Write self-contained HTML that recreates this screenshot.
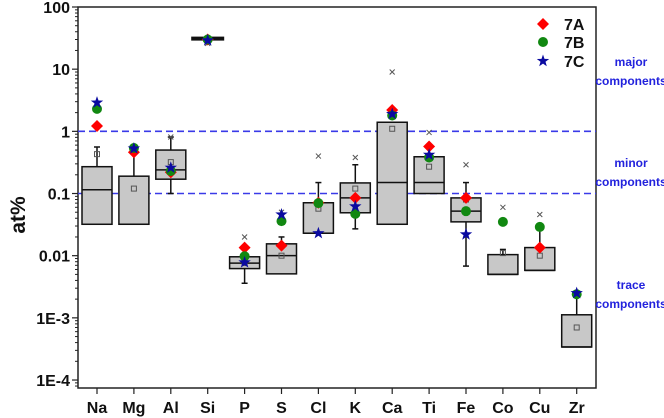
<!DOCTYPE html>
<html><head><meta charset="utf-8"><style>
body{margin:0;background:#fff;}
svg{display:block;font-family:"Liberation Sans",Arial,sans-serif;}
</style></head><body>
<svg id="chart" width="664" height="418" viewBox="0 0 664 418"></svg>
<script>
const categories=["Na","Mg","Al","Si","P","S","Cl","K","Ca","Ti","Fe","Co","Cu","Zr"];
const boxTop=[0.27,0.19,0.5,31.6,0.0096,0.0155,0.071,0.148,1.4,0.39,0.085,0.0104,0.0135,0.00112];
const boxBottom=[0.032,0.032,0.17,31.6,0.0062,0.0051,0.023,0.049,0.032,0.10,0.035,0.005,0.0058,0.00034];
const medians=[0.115,0.032,0.24,31.6,0.0076,0.01,0.023,0.085,0.15,0.15,0.052,0.005,0.0058,0.00034];
const whiskerTop=[0.56,0.53,0.81,31.6,0.0096,0.020,0.15,0.29,1.4,0.39,0.15,0.0126,0.029,0.0025];
const whiskerBottom=[0.032,0.032,0.10,31.6,0.0036,0.0051,0.023,0.027,0.032,0.10,0.0068,0.005,0.0058,0.00034];
const means=[0.43,0.12,0.32,30,0.0076,0.01,0.057,0.12,1.1,0.27,0.08,0.011,0.01,0.0007];
const outliers=[null,null,0.81,26,0.020,0.05,0.40,0.38,9.0,0.96,0.29,0.06,0.046,null];
const s7A=[1.22,0.46,0.22,30,0.0135,0.0145,0.071,0.085,2.2,0.57,0.085,null,0.0135,null];
const s7B=[2.3,0.54,0.23,30,0.0098,0.036,0.07,0.047,1.8,0.38,0.052,0.035,0.029,0.0024];
const s7C=[2.9,0.53,0.26,29,0.0078,0.046,0.023,0.062,1.9,0.42,0.022,null,null,0.0025];
const yTicks=[100,10,1,0.1,0.01,0.001,0.0001];
const yTickLabels=["100","10","1","0.1","0.01","1E-3","1E-4"];
const thresholds=[1,0.1];

const NS="http://www.w3.org/2000/svg";
const svg=document.getElementById('chart');
const L=78,R=596,T=7,B=388;
const y=v=>7+(2-Math.log10(v))*62.17;
const x=i=>97+i*36.9;
function el(t,a,p){const e=document.createElementNS(NS,t);for(const k in a)e.setAttribute(k,a[k]);(p||svg).appendChild(e);return e;}

const frame=el('rect',{x:L,y:T,width:R-L,height:B-T,fill:'none',stroke:'#222','stroke-width':1.5});



yTicks.forEach((v,i)=>{
  const yy=y(v);
  el('line',{x1:L-6,x2:L,y1:yy,y2:yy,stroke:'#222','stroke-width':1.2});
  const t=el('text',{x:L-8,y:yy+6,'text-anchor':'end','font-size':16,'font-weight':'bold',fill:'#111'});
  t.textContent=yTickLabels[i];
  
  
  if(i<yTicks.length-1){for(let m=2;m<10;m++){const ym=y(v/10*m);el('line',{x1:L-3,x2:L,y1:ym,y2:ym,stroke:'#222','stroke-width':1});}}
});
for(let m=2;m<10;m++){const ym=y(0.0001/10*m);if(ym<B)el('line',{x1:L-3,x2:L,y1:ym,y2:ym,stroke:'#222','stroke-width':1});}

const yt=el('text',{x:0,y:0,transform:'translate(25,215) rotate(-90)','text-anchor':'middle','font-size':21,'font-weight':'bold',fill:'#111'});
yt.textContent='at%';



thresholds.forEach(v=>{
  const l=el('line',{x1:L,x2:R,y1:y(v),y2:y(v),stroke:'#3a3ae8','stroke-width':1.6,'stroke-dasharray':'7,4'});
  
  
});

function marker(kind,cx,cy){
  let e;
  if(kind==='A') e=el('polygon',{points:`${cx},${cy-6} ${cx+6},${cy} ${cx},${cy+6} ${cx-6},${cy}`,fill:'#ff0000'});
  else if(kind==='B') e=el('circle',{cx:cx,cy:cy,r:5,fill:'#118811'});
  else {let p=[];for(let k=0;k<10;k++){const r=k%2?2.6:6.5,a=-Math.PI/2+k*Math.PI/5;p.push((cx+r*Math.cos(a)).toFixed(1)+','+(cy+r*Math.sin(a)).toFixed(1));}e=el('polygon',{points:p.join(' '),fill:'#0a0aa0'});}
  return e;
}

categories.forEach((c,i)=>{
  const cx=x(i),hw=15;
  el('line',{x1:cx,x2:cx,y1:B,y2:B+6,stroke:'#222','stroke-width':1.2});
  const lab=el('text',{x:cx,y:B+25,'text-anchor':'middle','font-size':16,'font-weight':'bold',fill:'#111'});
  lab.textContent=c;
  
  
  el('line',{x1:cx,x2:cx,y1:y(whiskerTop[i]),y2:y(boxTop[i]),stroke:'#111','stroke-width':1.5});
  el('line',{x1:cx,x2:cx,y1:y(boxBottom[i]),y2:y(whiskerBottom[i]),stroke:'#111','stroke-width':1.5});
  if(whiskerTop[i]>boxTop[i]) el('line',{x1:cx-3,x2:cx+3,y1:y(whiskerTop[i]),y2:y(whiskerTop[i]),stroke:'#111','stroke-width':1.5});
  if(whiskerBottom[i]<boxBottom[i]) el('line',{x1:cx-3,x2:cx+3,y1:y(whiskerBottom[i]),y2:y(whiskerBottom[i]),stroke:'#111','stroke-width':1.5});
  const h=Math.max(1,y(boxBottom[i])-y(boxTop[i]));
  const box=el('rect',{x:cx-hw,y:y(boxTop[i]),width:hw*2,height:h,fill:'#c8c8c8',stroke:'#111','stroke-width':c==='Si'?3:1.5});
  
  
  el('line',{x1:cx-hw,x2:cx+hw,y1:y(medians[i]),y2:y(medians[i]),stroke:'#111','stroke-width':1.5});
  el('rect',{x:cx-2.5,y:y(means[i])-2.5,width:5,height:5,fill:'none',stroke:'#555','stroke-width':1});
  if(outliers[i]!==null){const oy=y(outliers[i]);el('path',{d:`M${cx-2.5},${oy-2.5}L${cx+2.5},${oy+2.5}M${cx-2.5},${oy+2.5}L${cx+2.5},${oy-2.5}`,stroke:'#555','stroke-width':1});}
  if(s7A[i]!==null){const m=marker('A',cx,y(s7A[i]));}
  if(s7B[i]!==null){const m=marker('B',cx,y(s7B[i]));}
  if(s7C[i]!==null){const m=marker('C',cx,y(s7C[i]));}
});

[['A','7A',24],['B','7B',42],['C','7C',61]].forEach(d=>{
  const m=marker(d[0],543,d[2]);
  
  
  const t=el('text',{x:564,y:d[2]+6,'font-size':16,'font-weight':'bold',fill:'#111'});
  t.textContent=d[1];
  
  
});

[['major',62],['components',81],['minor',163],['components',182],['trace',285],['components',304]].forEach(d=>{
  const t=el('text',{x:631,y:d[1]+4,'text-anchor':'middle','font-size':12,'font-weight':'bold',fill:'#2222dd'});
  t.textContent=d[0];
  
  
});
</script>
</body></html>
